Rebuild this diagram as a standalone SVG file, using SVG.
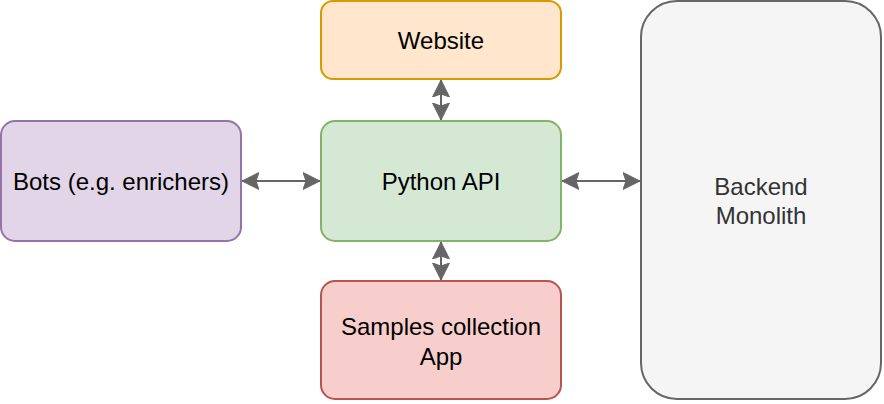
<svg xmlns="http://www.w3.org/2000/svg" width="884" height="404" viewBox="0 0 884 404">
<style>
.lbl{font-family:"Liberation Sans",Arial,sans-serif;font-size:24px;text-anchor:middle;dominant-baseline:central;fill:#000}
.conn{stroke:#666666;stroke-width:2;fill:none}
</style>
<defs>
<marker id="arr" markerUnits="userSpaceOnUse" markerWidth="22" markerHeight="22" viewBox="0 0 22 22" refX="17" refY="11" orient="auto-start-reverse">
<path d="M0,2.5 L17,11 L0,19.5 L3,11 Z" fill="#666666" stroke="#666666" stroke-width="1"/>
</marker>
</defs>
<g id="backend">
<rect x="641" y="1" width="240" height="398" rx="36" fill="#f5f5f5" stroke="#666666" stroke-width="2"/>
<text class="lbl" x="761" y="186" style="fill:#333333">Backend</text>
<text class="lbl" x="761" y="215" style="fill:#333333">Monolith</text>
</g>
<g id="website">
<rect x="321" y="1" width="240" height="78" rx="12" fill="#ffe6cc" stroke="#d79b00" stroke-width="2"/>
<text class="lbl" x="441" y="40">Website</text>
</g>
<g id="bots">
<rect x="1" y="121" width="240" height="120" rx="14" fill="#e1d5e7" stroke="#9673a6" stroke-width="2"/>
<text class="lbl" x="121" y="181">Bots (e.g. enrichers)</text>
</g>
<g id="python-api">
<rect x="321" y="121" width="240" height="120" rx="14" fill="#d5e8d4" stroke="#82b366" stroke-width="2"/>
<text class="lbl" x="441" y="181">Python API</text>
</g>
<g id="samples">
<rect x="321" y="281" width="240" height="118" rx="14" fill="#f8cecc" stroke="#b85450" stroke-width="2"/>
<text class="lbl" x="441" y="326">Samples collection</text>
<text class="lbl" x="441" y="356">App</text>
</g>
<g id="connectors">
<line class="conn" x1="242" y1="181" x2="320" y2="181" marker-start="url(#arr)" marker-end="url(#arr)"/>
<line class="conn" x1="562" y1="181" x2="640" y2="181" marker-start="url(#arr)" marker-end="url(#arr)"/>
<line class="conn" x1="441" y1="80" x2="441" y2="120" marker-start="url(#arr)" marker-end="url(#arr)"/>
<line class="conn" x1="441" y1="242" x2="441" y2="280" marker-start="url(#arr)" marker-end="url(#arr)"/>
</g>
</svg>
